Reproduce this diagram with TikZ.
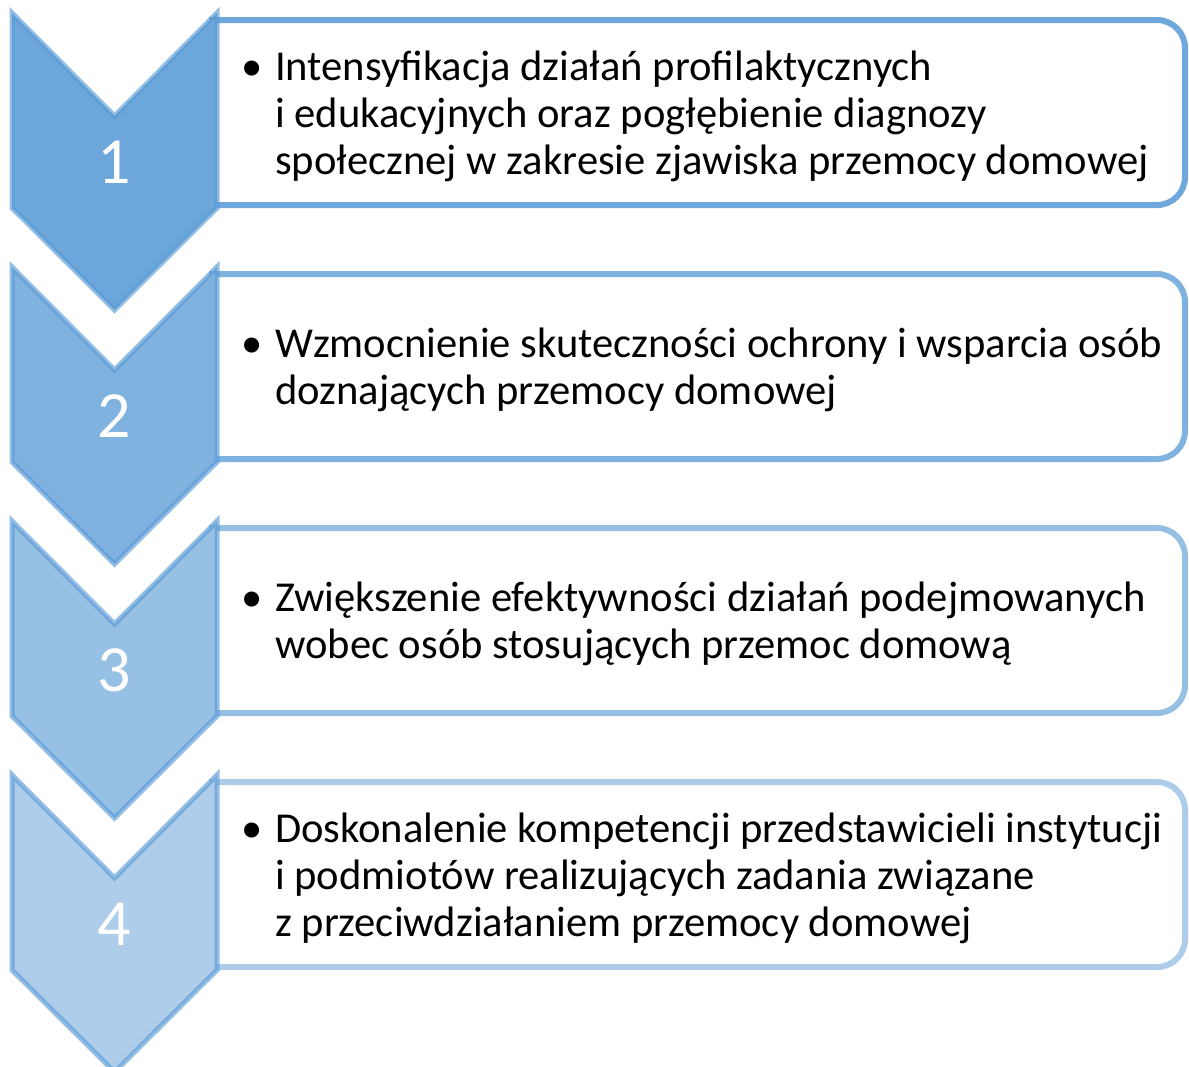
\documentclass[tikz,border=0pt]{standalone}
\usepackage{fontspec}
\setmainfont{Carlito}
\definecolor{cA}{RGB}{108,166,218}
\definecolor{cB}{RGB}{128,178,223}
\definecolor{cC}{RGB}{151,192,229}
\definecolor{cD}{RGB}{173,205,234}
\definecolor{sA}{RGB}{91,155,213}
\definecolor{bA}{RGB}{111,168,220}
\definecolor{bB}{RGB}{128,178,223}
\definecolor{bC}{RGB}{150,191,228}
\definecolor{bD}{RGB}{172,204,234}
\tikzset{
  chev/.style={fill=#1, draw=sA, draw opacity=0.65, line width=5pt, line join=miter},
  stepbox/.style={draw=#1, line width=6pt, fill=white},
  numtext/.style={text=white, font=\fontsize{66}{70}\selectfont, inner sep=0pt},
  bodytext/.style={anchor=west, inner sep=0pt, align=left, font=\fontsize{42.6}{47}\selectfont}
}
\newcommand{\bul}{\makebox[34pt][l]{•}}
\begin{document}
\begin{tikzpicture}[x=1pt,y=-1pt]
\useasboundingbox (0,0) rectangle (1189,1066);
\foreach \i/\fc/\bc in {0/cA/bA,1/cB/bB,2/cC/bC,3/cD/bD}{
  \pgfmathsetmacro{\t}{13+254*\i}
  \draw[stepbox=\bc] (212,\t+7) -- (1100,\t+7) [rounded corners=28pt] -- (1185,\t+7) -- (1185,\t+192) -- (1100,\t+192) [sharp corners] -- (212,\t+192) -- cycle;
  \draw[chev=\fc] (12,\t) -- (114.5,\t+103) -- (217,\t) -- (217,\t+195) -- (114.5,\t+297) -- (12,\t+195) -- cycle;
}
\node[numtext] (n1) at (114.5,162) {1};
\node[numtext] (n2) at (114.5,416) {2};
\node[numtext] (n3) at (114.5,670) {3};
\node[numtext] (n4) at (114.5,924) {4};
\node[bodytext] (t1) at (241,116) {\bul Intensyfikacja działań profilaktycznych\\\hspace*{34pt}i edukacyjnych oraz pogłębienie diagnozy\\\hspace*{34pt}społecznej w zakresie zjawiska przemocy domowej};
\node[bodytext] (t2) at (241,370) {\bul Wzmocnienie skuteczności ochrony i wsparcia osób\\\hspace*{34pt}doznających przemocy domowej};
\node[bodytext] (t3) at (241,624) {\bul Zwiększenie efektywności działań podejmowanych\\\hspace*{34pt}wobec osób stosujących przemoc domową};
\node[bodytext] (t4) at (241,878) {\bul Doskonalenie kompetencji przedstawicieli instytucji\\\hspace*{34pt}i podmiotów realizujących zadania związane\\\hspace*{34pt}z przeciwdziałaniem przemocy domowej};
\end{tikzpicture}
\end{document}
